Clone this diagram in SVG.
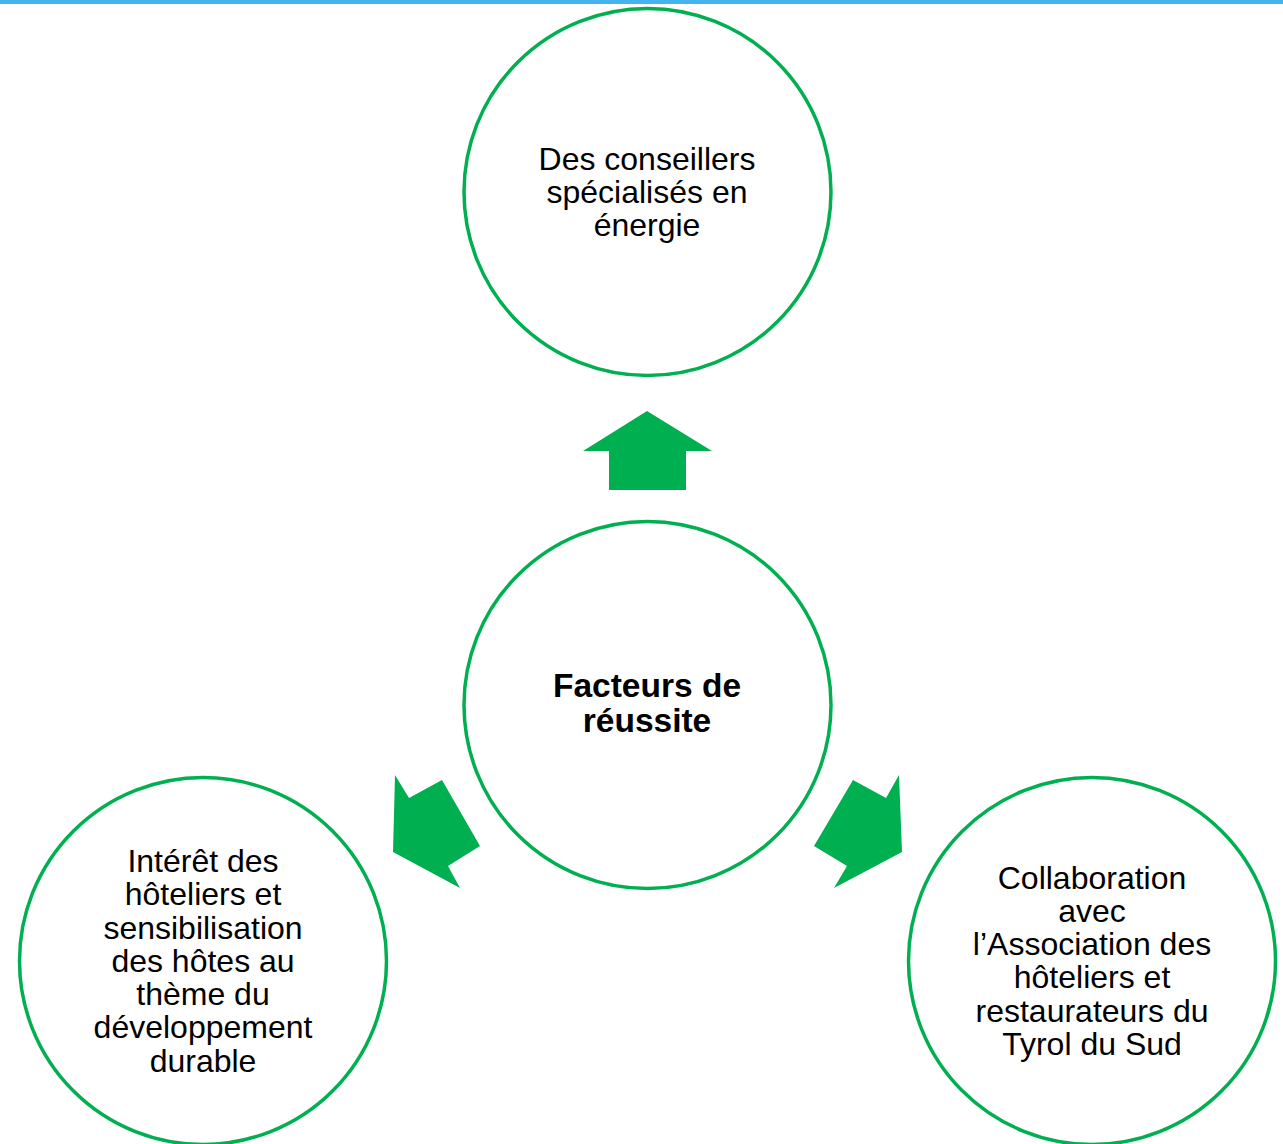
<svg xmlns="http://www.w3.org/2000/svg" width="1283" height="1144" viewBox="0 0 1283 1144">
<style>
.c{fill:#fff;stroke:#00B050;stroke-width:3.5}
.t{font-family:"Liberation Sans",Arial,sans-serif;font-size:32px;fill:#000;text-anchor:middle}
.b{font-weight:bold;font-size:33.5px}
.a{fill:#00B050}
</style>
<rect x="0" y="0" width="1283" height="4" fill="#44B4EE"/>
<g id="connectors">
<polygon class="a" points="647,411 712,451 686,451 686,490 609,490 609,451 583,451"/>
<polygon class="a" points="395,775 409,798 442,780 480,846 448,866 460,888 393,852"/>
<polygon class="a" points="899,775 886,798 853,780 814,846 847,866 834,888 902,852"/>
</g>
<g id="node-top">
<circle class="c" cx="647.5" cy="192" r="183.5"/>
<text class="t" x="647" y="170">Des conseillers</text>
<text class="t" x="647" y="203">spécialisés en</text>
<text class="t" x="647" y="236">énergie</text>
</g>
<g id="node-center">
<circle class="c" cx="647.5" cy="705" r="183.5"/>
<text class="t b" x="647" y="697">Facteurs de</text>
<text class="t b" x="647" y="732">réussite</text>
</g>
<g id="node-left">
<circle class="c" cx="203" cy="961" r="183.5"/>
<text class="t" x="203" y="872">Intérêt des</text>
<text class="t" x="203" y="905">hôteliers et</text>
<text class="t" x="203" y="939">sensibilisation</text>
<text class="t" x="203" y="972">des hôtes au</text>
<text class="t" x="203" y="1005">thème du</text>
<text class="t" x="203" y="1038">développement</text>
<text class="t" x="203" y="1072">durable</text>
</g>
<g id="node-right">
<circle class="c" cx="1092" cy="961" r="183.5"/>
<text class="t" x="1092" y="889">Collaboration</text>
<text class="t" x="1092" y="922">avec</text>
<text class="t" x="1092" y="955">l’Association des</text>
<text class="t" x="1092" y="988">hôteliers et</text>
<text class="t" x="1092" y="1022">restaurateurs du</text>
<text class="t" x="1092" y="1055">Tyrol du Sud</text>
</g>
</svg>
